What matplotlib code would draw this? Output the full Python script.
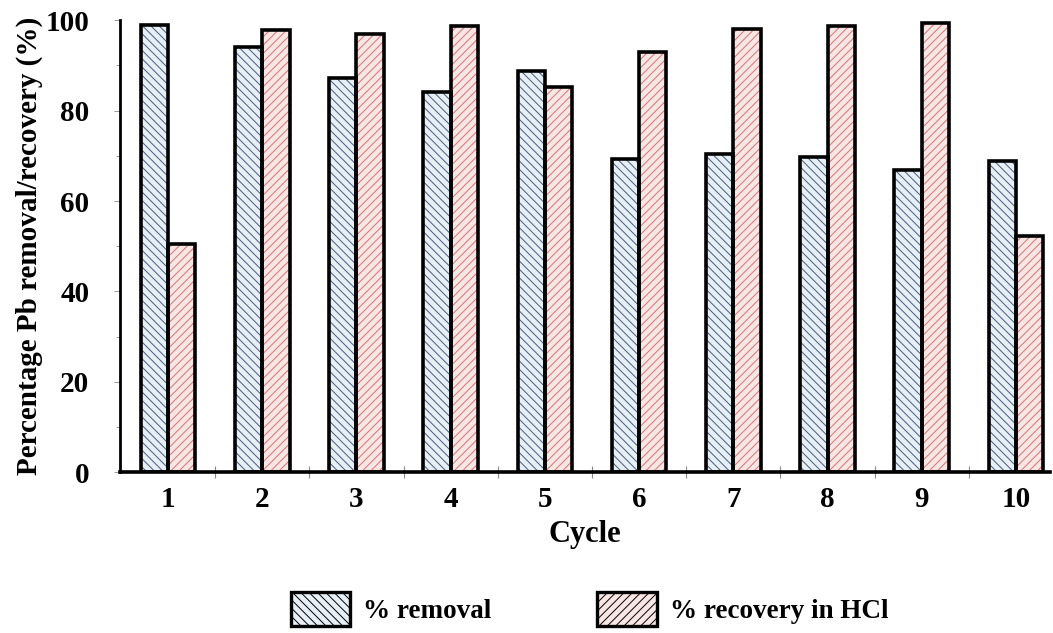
import numpy as np
import matplotlib.pyplot as plt
from matplotlib.patches import Patch

cycles = [1, 2, 3, 4, 5, 6, 7, 8, 9, 10]
removal = [98.9, 94.0, 87.2, 84.1, 88.8, 69.2, 70.3, 69.8, 66.8, 68.9]
recovery = [50.4, 97.8, 96.9, 98.7, 85.2, 92.9, 98.1, 98.7, 99.4, 52.2]
labels = ["% removal", "% recovery in HCl"]

plt.rcParams["font.family"] = ["Liberation Serif", "DejaVu Serif"]
plt.rcParams["font.weight"] = "bold"
plt.rcParams["hatch.linewidth"] = 0.7

blue_fill, blue_hatch = "#e6eff5", "#4a5a78"
red_fill, red_hatch = "#f9e6e4", "#cc7676"

fig = plt.figure(figsize=(10.53, 6.33), dpi=100)
ax = fig.add_axes([0.114, 0.254, 0.883, 0.714])

x = np.array(cycles)
w = 0.29
# hatched fill first, then black outline on top
ax.bar(x - w / 2, removal, w, color=blue_fill, hatch="\\\\\\\\", edgecolor=blue_hatch, linewidth=0)
ax.bar(x + w / 2, recovery, w, color=red_fill, hatch="////", edgecolor=red_hatch, linewidth=0)
ax.bar(x - w / 2, removal, w, fill=False, edgecolor="black", linewidth=2.6)
ax.bar(x + w / 2, recovery, w, fill=False, edgecolor="black", linewidth=2.6)

ax.set_xlim(0.49, 10.36)
ax.set_ylim(0, 100)
ax.set_xticks(cycles)
ax.set_xticks(x[:-1] + 0.5, minor=True)
ax.set_yticks(range(0, 101, 20))
ax.set_yticks(range(10, 100, 20), minor=True)
ax.tick_params(axis="y", which="major", labelsize=21, length=4, width=0.6, color="#888888", pad=18)
ax.tick_params(axis="y", which="minor", length=3, width=0.6, color="#888888")
ax.tick_params(axis="x", which="major", labelsize=21, length=0, pad=10)
ax.tick_params(axis="x", which="minor", direction="inout", length=9, width=0.8, color="#888888")

for s in ["top", "right"]:
    ax.spines[s].set_visible(False)
ax.spines["left"].set_linewidth(2.0)
ax.spines["bottom"].set_linewidth(2.6)

ax.set_xlabel("Cycle", fontsize=22, fontweight="bold", labelpad=5)
ax.set_ylabel("Percentage Pb removal/recovery (%)", fontsize=21, fontweight="bold", labelpad=2)

handles = [
    Patch(facecolor=blue_fill, edgecolor=blue_hatch, hatch="\\\\\\\\", linewidth=0),
    Patch(facecolor=red_fill, edgecolor=red_hatch, hatch="////", linewidth=0),
]
leg = fig.legend(handles, labels, loc="center", bbox_to_anchor=(0.56, 0.038), ncol=2,
                 frameon=False, fontsize=19.5, handlelength=2.2, handleheight=1.55,
                 columnspacing=3.9, handletextpad=0.48)
for t in leg.get_texts():
    t.set_fontweight("bold")
for p in leg.get_patches():
    p.set_linewidth(2.4)
    p.set_edgecolor("black")

fig.savefig("out.png", dpi=100)
